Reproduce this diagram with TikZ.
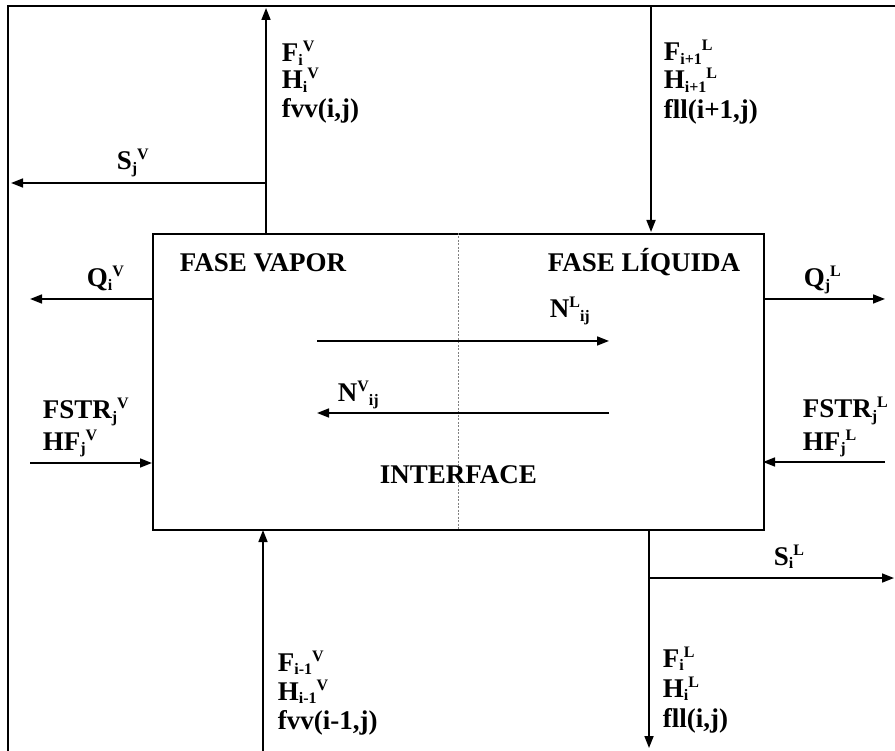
\documentclass[tikz,border=0pt]{standalone}
\usepackage{fontspec}
\setmainfont{Liberation Serif}
\usetikzlibrary{arrows.meta}
\newcommand{\lsb}[1]{\raisebox{-3.5pt}{\fontsize{16}{16}\selectfont #1}}
\newcommand{\lsp}[1]{\raisebox{10pt}{\fontsize{16}{16}\selectfont #1}}
\begin{document}
\begin{tikzpicture}[x=1pt,y=-1pt,line width=1.7pt,
  flow/.style={-{Triangle[length=12pt,width=9pt]}},
  lbl/.style={anchor=base west,inner sep=0pt,font=\bfseries\fontsize{27}{30}\selectfont},
  divider/.style={line width=0.8pt,gray,dash pattern=on 2pt off 1.5pt}]
\useasboundingbox (0,0) rectangle (895,751);
% outer frame
\coordinate (tl) at (8,6);
\coordinate (tr) at (895,6);
\coordinate (bl) at (8,751);
\draw (bl) -- (tl) -- (tr);
% main box
\node[draw,minimum width=611pt,minimum height=296pt,inner sep=0pt,anchor=north west] (box) at (152,233) {};
\coordinate (dtop) at (458,233);
\coordinate (dbot) at (458,529);
\draw[divider] (dtop) -- (dbot);
% top-left vapour outlet
\coordinate (vout) at (266,233);
\coordinate (vtop) at (266,8);
\coordinate (sjv) at (266,183);
\coordinate (sjvend) at (11,183);
\draw[flow] (vout) -- (vtop);
\draw[flow] (sjv) -- (sjvend);
% top-right liquid inlet
\coordinate (lin) at (651,6);
\coordinate (linend) at (651,232);
\draw[flow] (lin) -- (linend);
% heat
\coordinate (qvs) at (152,299);
\coordinate (qve) at (30,299);
\coordinate (qls) at (763,299);
\coordinate (qle) at (885,299);
\draw[flow] (qvs) -- (qve);
\draw[flow] (qls) -- (qle);
% interface fluxes
\coordinate (nls) at (317,341);
\coordinate (nle) at (609,341);
\coordinate (nvs) at (609,413);
\coordinate (nve) at (317,413);
\draw[flow] (nls) -- (nle);
\draw[flow] (nvs) -- (nve);
% feeds
\coordinate (fvs) at (30,463);
\coordinate (fve) at (152,463);
\coordinate (fls) at (885,462);
\coordinate (fle) at (763,462);
\draw[flow] (fvs) -- (fve);
\draw[flow] (fls) -- (fle);
% bottom-left vapour inlet
\coordinate (vin) at (263,751);
\coordinate (vinend) at (263,530);
\draw[flow] (vin) -- (vinend);
% bottom-right liquid outlet
\coordinate (lout) at (649,529);
\coordinate (loutend) at (649,748);
\coordinate (sil) at (649,578);
\coordinate (silend) at (894,578);
\draw[flow] (lout) -- (loutend);
\draw[flow] (sil) -- (silend);
% labels
\node[lbl] (l1) at (281,62) {F\lsb{i}\lsp{V}};
\node[lbl] (l2) at (281,89) {H\lsb{i}\lsp{V}};
\node[lbl] (l3) at (281,118) {fvv(i,j)};
\node[lbl] (l4) at (663,61) {F\lsb{i+1}\lsp{L}};
\node[lbl] (l5) at (663,89) {H\lsb{i+1}\lsp{L}};
\node[lbl] (l6) at (663,119) {fll(i+1,j)};
\node[lbl] (l7) at (116,170) {S\lsb{j}\lsp{V}};
\node[lbl] (l8) at (86,287) {Q\lsb{i}\lsp{V}};
\node[lbl] (l9) at (179,272) {FASE VAPOR};
\node[lbl] (l10) at (547,272) {FASE LÍQUIDA};
\node[lbl] (l11) at (803,287) {Q\lsb{j}\lsp{L}};
\node[lbl] (l12) at (549,318) {N\lsp{L}\lsb{ij}};
\node[lbl] (l13) at (337,402) {N\lsp{V}\lsb{ij}};
\node[lbl] (l14) at (42,419) {FSTR\lsb{j}\lsp{V}};
\node[lbl] (l15) at (42,450) {HF\lsb{j}\lsp{V}};
\node[lbl] (l16) at (802,418) {FSTR\lsb{j}\lsp{L}};
\node[lbl] (l17) at (802,450) {HF\lsb{j}\lsp{L}};
\node[lbl] (l18) at (379,483) {INTERFACE};
\node[lbl] (l19) at (277,671) {F\lsb{i-1}\lsp{V}};
\node[lbl] (l20) at (277,700) {H\lsb{i-1}\lsp{V}};
\node[lbl] (l21) at (277,729) {fvv(i-1,j)};
\node[lbl] (l22) at (773,565) {S\lsb{i}\lsp{L}};
\node[lbl] (l23) at (662,667) {F\lsb{i}\lsp{L}};
\node[lbl] (l24) at (662,697) {H\lsb{i}\lsp{L}};
\node[lbl] (l25) at (662,727) {fll(i,j)};
\end{tikzpicture}
\end{document}
